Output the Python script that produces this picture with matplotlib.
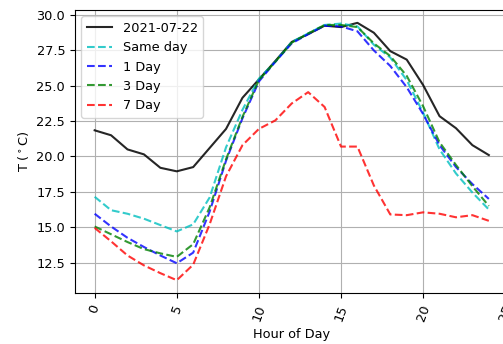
"""Hourly temperature: observed day vs forecasts at several lead times."""

import matplotlib

matplotlib.use("Agg")
import matplotlib.pyplot as plt

# === DATA ===
HOURS = list(range(25))

OBSERVED = [21.85, 21.5, 20.5, 20.15, 19.2, 18.95, 19.25, 20.6, 21.95, 24.15,
            25.45, 26.75, 28.1, 28.65, 29.25, 29.15, 29.45, 28.75, 27.45, 26.85,
            25.05, 22.85, 22.0, 20.8, 20.1]
SAME_DAY = [17.15, 16.2, 15.95, 15.6, 15.15, 14.7, 15.2, 17.1, 20.65, 23.3,
            25.5, 26.7, 28.1, 28.7, 29.3, 29.4, 29.2, 27.9, 27.0, 25.4,
            23.1, 20.5, 18.8, 17.45, 16.25]
DAY_1 = [15.95, 15.05, 14.25, 13.6, 13.0, 12.45, 13.2, 16.1, 19.7, 22.7,
         25.3, 26.7, 28.0, 28.65, 29.25, 29.2, 28.85, 27.5, 26.4, 24.9,
         23.0, 20.8, 19.25, 18.05, 17.0]
DAY_3 = [15.05, 14.5, 13.95, 13.45, 13.15, 12.9, 13.8, 16.4, 19.8, 22.8,
         25.4, 26.7, 28.05, 28.7, 29.3, 29.3, 29.15, 28.0, 27.1, 25.7,
         23.55, 21.0, 19.4, 17.9, 16.5]
DAY_7 = [14.95, 14.0, 13.0, 12.3, 11.75, 11.25, 12.35, 15.2, 18.6, 20.8,
         21.95, 22.55, 23.75, 24.55, 23.5, 20.7, 20.7, 17.95, 15.9, 15.85,
         16.05, 15.95, 15.7, 15.85, 15.45]

# === PLOT ===
plt.rcParams["font.size"] = 9.3

fig = plt.figure(figsize=(5.03, 3.44), dpi=100)
# the original figure is wider than the crop: right spine sits past the edge
ax = fig.add_axes([0.149, 0.148, 0.862, 0.823])

ax.plot(HOURS, OBSERVED, "k-", alpha=0.85, label="2021-07-22")
ax.plot(HOURS, SAME_DAY, "c--", alpha=0.8, label="Same day")
ax.plot(HOURS, DAY_1, "b--", alpha=0.8, label="1 Day")
ax.plot(HOURS, DAY_3, "g--", alpha=0.8, label="3 Day")
ax.plot(HOURS, DAY_7, "r--", alpha=0.8, label="7 Day")

ax.set_xlim(-1.2, 25.2)
ax.set_xlabel("Hour of Day")
ax.set_ylabel(r"T ($^\circ$C)")
ax.grid(True)
ax.tick_params(axis="x", labelrotation=70)
ax.legend(loc="upper left")

fig.savefig("out.png", dpi=100)
